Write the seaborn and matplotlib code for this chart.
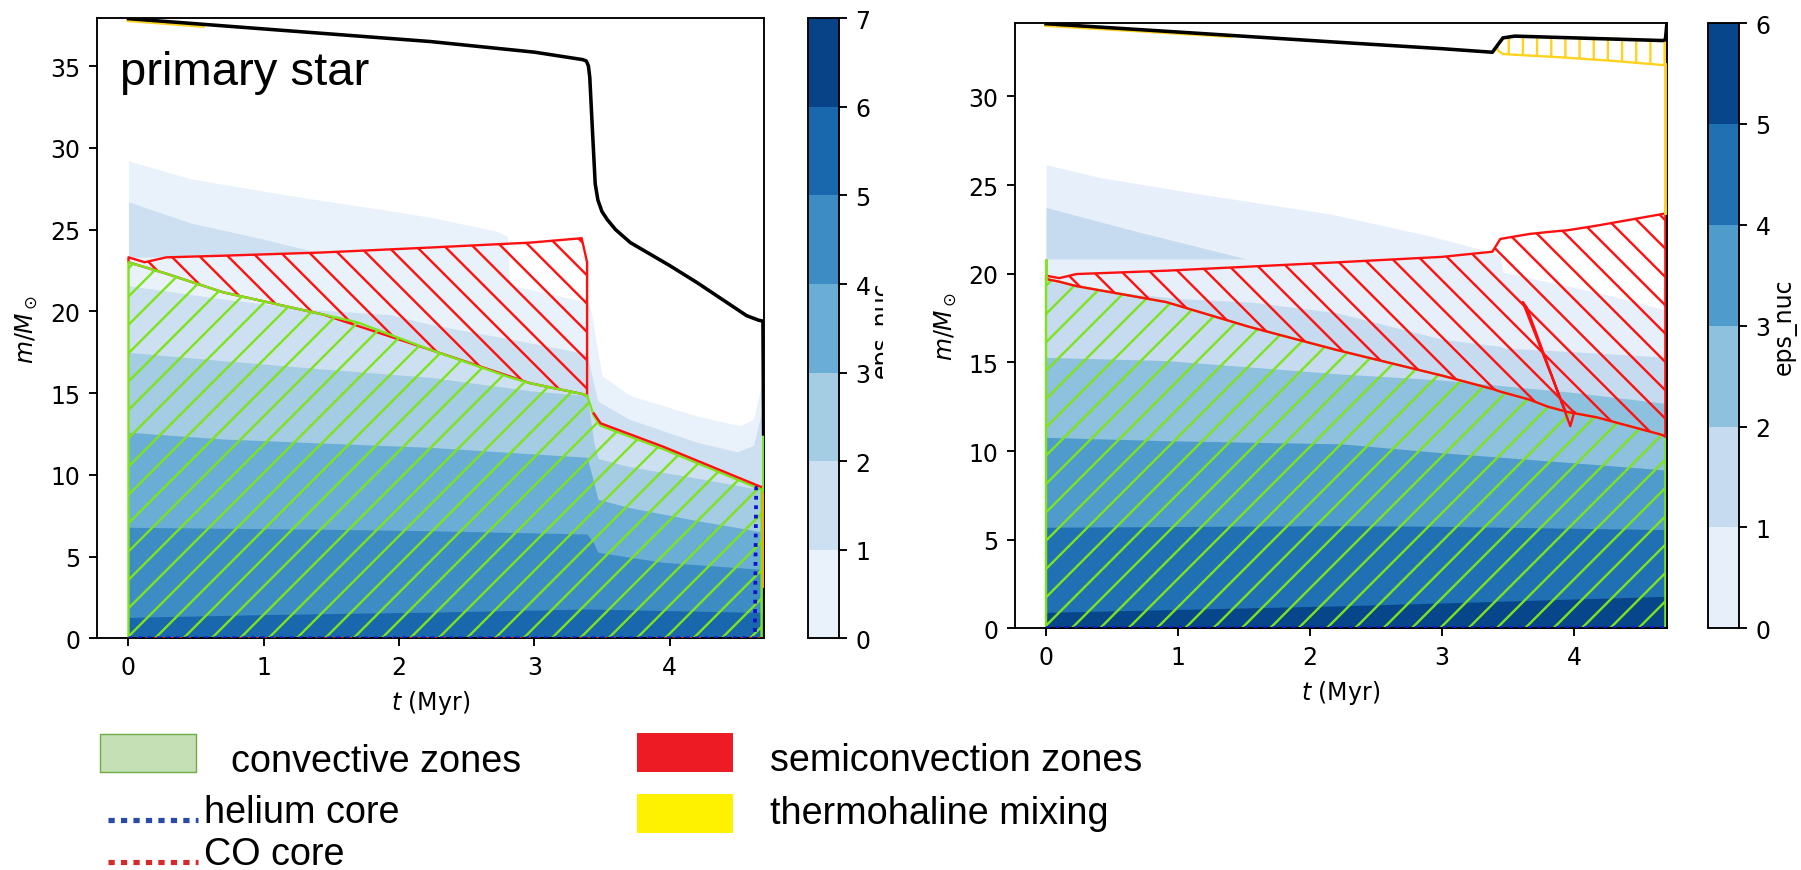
import matplotlib
matplotlib.use("Agg")
import matplotlib.pyplot as plt
import matplotlib.colors as mcolors
from matplotlib.patches import Rectangle
import seaborn as sns

# ==============================================================================
# DATA - time in Myr, mass coordinate in Msun
# ==============================================================================
# ---- primary star (left panel) ----
p_surf_t = [0, 1.0, 2.23, 3.0, 3.36, 3.385, 3.40, 3.41, 3.43, 3.45, 3.47, 3.50, 3.54, 3.60, 3.71,
            4.0, 4.2, 4.57, 4.66, 4.69, 4.695]
p_surf_m = [37.9, 37.27, 36.5, 35.85, 35.39, 35.3, 35.0, 34.3, 31.0, 27.8, 26.8, 26.1, 25.6, 25.0, 24.2,
            22.8, 21.77, 19.73, 19.45, 19.4, 12.5]

# top of the region where eps_nuc >= level (levels 0..5)
p_b0_t = [0, 0.46, 1.2, 1.93, 2.23, 2.72, 2.8, 2.82, 3.1, 3.39, 3.42, 3.47, 3.5, 3.71, 4.2, 4.52, 4.62, 4.66, 4.69]
p_b0_m = [29.2, 28.1, 27.07, 26.15, 25.75, 24.9, 24.6, 21.6, 21.1, 20.55, 20.0, 17.5, 16.06, 14.84, 13.6, 13.0, 13.4, 14.84, 16.0]
p_b1_t = [0, 0.46, 0.95, 1.35, 1.36, 1.93, 2.23, 2.82, 3.39, 3.44, 3.47, 3.7, 4.2, 4.5, 4.62, 4.67, 4.69]
p_b1_m = [26.7, 25.4, 24.5, 23.7, 20.1, 19.8, 19.2, 18.3, 17.4, 15.5, 14.5, 13.4, 12.0, 11.4, 11.8, 13.5, 14.0]
p_b2_t = [0, 0.7, 1.44, 2.23, 2.97, 3.39, 3.44, 3.47, 3.7, 4.2, 4.6, 4.69]
p_b2_m = [17.49, 16.98, 16.47, 15.96, 15.14, 14.84, 12.0, 11.0, 10.5, 9.8, 9.2, 9.1]
p_b3_t = [0, 0.7, 1.44, 2.23, 3.39, 3.44, 3.47, 3.7, 4.2, 4.69]
p_b3_m = [12.6, 12.19, 11.94, 11.68, 11.07, 9.5, 8.5, 8.0, 7.2, 6.5]
p_b4_t = [0, 1.44, 2.23, 3.39, 3.44, 3.47, 3.95, 4.64, 4.69]
p_b4_m = [6.79, 6.67, 6.58, 6.38, 5.8, 5.26, 4.65, 4.24, 4.2]
p_b5_t = [0, 1.0, 2.23, 3.39, 4.64, 4.69]
p_b5_m = [1.28, 1.45, 1.6, 1.79, 1.59, 1.59]
# low-eps pocket just under the semiconvective layer
p_pocket_t = [0, 0.7, 1.36]
p_pocket_lo = [21.57, 20.75, 20.1]
p_pocket_hi = [23.3, 23.4, 23.7]

p_conv_t = [0, 0.12, 0.28, 0.7, 1.44, 1.69, 2.23, 2.82, 2.97, 3.35, 3.39, 3.44, 3.49, 3.95, 4.64, 4.68]
p_conv_m = [23.0, 22.7, 22.3, 21.16, 19.8, 19.33, 17.65, 15.96, 15.6, 14.95, 14.84, 13.6, 13.0, 11.58, 9.23, 9.1]
p_semi_t = [0, 0.12, 0.28, 0.7, 1.44, 2.23, 2.97, 3.35, 3.39]
p_semi_lo = [23.0, 22.7, 22.3, 21.16, 19.8, 17.65, 15.6, 14.95, 14.84]
p_semi_hi = [23.3, 23.0, 23.3, 23.4, 23.6, 23.9, 24.2, 24.47, 23.0]
p_semiline_t = [3.44, 3.49, 3.95, 4.64, 4.68]
p_semiline_m = [13.75, 13.15, 11.73, 9.38, 9.25]
p_he_t = [0, 4.63, 4.64, 4.69]
p_he_m = [0, 0, 9.2, 9.2]
p_co_t = [0, 4.69]
p_co_m = [0, 0]

# ---- secondary star (right panel) ----
s_surf_t = [0, 1.0, 2.2, 3.0, 3.38, 3.42, 3.46, 3.55, 4.0, 4.67, 4.69, 4.70]
s_surf_m = [34.1, 33.63, 33.06, 32.69, 32.49, 32.9, 33.3, 33.4, 33.3, 33.15, 33.2, 34.0]

s_b0_t = [0, 0.40, 1.16, 2.15, 2.9, 3.38, 3.44, 3.46, 3.7, 4.2, 4.67, 4.69]
s_b0_m = [26.15, 25.44, 24.5, 23.37, 22.14, 21.2, 21.0, 20.1, 19.7, 18.9, 18.0, 18.0]
s_b1_t = [0, 0.66, 1.52, 1.55, 2.2, 3.0, 3.44, 3.47, 4.0, 4.67, 4.69]
s_b1_m = [23.74, 22.43, 20.83, 18.4, 17.8, 16.3, 15.9, 15.8, 15.6, 15.3, 15.3]
s_b2_t = [0, 0.91, 2.24, 3.0, 4.0, 4.67, 4.69]
s_b2_m = [15.28, 15.1, 14.34, 14.0, 13.3, 12.7, 12.7]
s_b3_t = [0, 0.91, 2.24, 3.0, 4.0, 4.67, 4.69]
s_b3_m = [10.77, 10.58, 10.4, 9.9, 9.33, 8.94, 8.94]
s_b4_t = [0, 2.24, 3.0, 4.67, 4.69]
s_b4_m = [5.7, 5.79, 5.75, 5.57, 5.57]
s_b5_t = [0, 2.24, 3.0, 4.67, 4.69]
s_b5_m = [0.9, 1.27, 1.43, 1.8, 1.8]
s_pocket_t = [0, 0.5, 1.0, 1.55]
s_pocket_lo = [19.6, 19.0, 18.6, 18.4]
s_pocket_hi = [20.83, 20.83, 20.83, 20.83]

s_semi_t = [0, 0.1, 0.23, 0.91, 1.54, 2.2, 3.0, 3.38, 3.44, 3.66, 3.8, 3.95, 4.17, 4.67, 4.69]
s_semi_hi = [19.89, 19.75, 19.98, 20.17, 20.4, 20.64, 20.95, 21.24, 21.96, 22.24, 22.35, 22.45, 22.71, 23.37, 23.4]
s_semi_lo = [19.7, 19.55, 19.3, 18.4, 17.0, 15.7, 14.25, 13.5, 13.35, 12.9, 12.5, 12.2, 11.9, 10.9, 10.8]
s_spike_t = [3.93, 3.61, 3.64, 3.97, 4.0]
s_spike_m = [12.3, 18.4, 18.1, 11.4, 12.2]
s_thm_t = [3.42, 3.46, 3.55, 3.91, 4.3, 4.67, 4.69]
s_thm_hi = [32.9, 33.3, 33.4, 33.32, 33.25, 33.15, 33.15]
s_thm_lo = [32.6, 32.39, 32.35, 32.2, 32.0, 31.77, 31.77]

# ==============================================================================
# STYLE
# ==============================================================================
DPI = 170
W, H = 1801, 871
VERDE = '#7fe31c'
VERMELHO = '#ff1010'
AMARELO = '#ffd21f'
blues = sns.color_palette("Blues", as_cmap=True)


def caixa(x0, x1, y0, y1):
    # pixel box -> figure fraction
    return [x0 / W, 1 - y1 / H, (x1 - x0) / W, (y1 - y0) / H]


fig = plt.figure(figsize=(W / DPI, H / DPI), dpi=DPI)
ax_p = fig.add_axes(caixa(96.7, 764.3, 19.3, 639.3))
cax_p = fig.add_axes(caixa(808, 839, 19.3, 639.3))
ax_s = fig.add_axes(caixa(1015, 1666.7, 24, 629.3))
cax_s = fig.add_axes(caixa(1708, 1739, 24, 629.3))
ax_s.set_zorder(1)
cax_s.set_zorder(1)

# ==============================================================================
# LEFT PANEL
# ==============================================================================
cores_p = [blues((k + 0.5) / 7) for k in range(7)]
bandas_p = [(p_b0_t, p_b0_m), (p_b1_t, p_b1_m), (p_b2_t, p_b2_m),
            (p_b3_t, p_b3_m), (p_b4_t, p_b4_m), (p_b5_t, p_b5_m)]
for k, (tt, mm) in enumerate(bandas_p):
    ax_p.fill_between(tt, 0, mm, color=cores_p[k], lw=0, zorder=1 + k * 0.01)
    if k == 1:
        ax_p.fill_between(p_pocket_t, p_pocket_lo, p_pocket_hi, color=cores_p[0], lw=0, zorder=1.015)

ax_p.fill_between(p_semi_t, p_semi_lo, p_semi_hi, facecolor='none', edgecolor=VERMELHO,
                  hatch='\\\\', lw=1.0, zorder=2)
ax_p.fill_between(p_conv_t, 0, p_conv_m, facecolor='none', edgecolor=VERDE,
                  hatch='//', lw=1.0, zorder=2.5)
ax_p.plot(p_semiline_t, p_semiline_m, color=VERMELHO, lw=1.0, zorder=3)
ax_p.plot([4.69, 4.69], [9.1, 12.4], color=VERDE, lw=1.2, zorder=3)
ax_p.plot([4.69, 4.69], [3.2, 8.9], color='#f2a900', lw=1.2, zorder=3)
ax_p.plot(p_he_t, p_he_m, color='#1010d0', lw=1.6, ls=(0, (1, 1.5)), zorder=3.2)
ax_p.plot(p_co_t, p_co_m, color='#d02020', lw=1.2, ls=(0, (1, 2)), zorder=3.1)
ax_p.plot([0, 0.55], [37.8, 37.45], color=AMARELO, lw=1.6, zorder=3.5)
sns.lineplot(x=p_surf_t, y=p_surf_m, ax=ax_p, color='black', lw=1.5,
             sort=False, estimator=None, zorder=4)

ax_p.set_xlim(-0.235, 4.70)
ax_p.set_ylim(0, 37.92)
ax_p.set_xlabel('$t$ (Myr)')
ax_p.set_ylabel(r'$m/M_\odot$')

sm_p = plt.cm.ScalarMappable(norm=mcolors.BoundaryNorm(list(range(8)), 7),
                             cmap=mcolors.ListedColormap(cores_p))
cb_p = fig.colorbar(sm_p, cax=cax_p, ticks=list(range(8)))
cb_p.set_label('eps_nuc', labelpad=0)

# ==============================================================================
# RIGHT PANEL
# ==============================================================================
cores_s = [blues((k + 0.5) / 6) for k in range(6)]
bandas_s = [(s_b0_t, s_b0_m), (s_b1_t, s_b1_m), (s_b2_t, s_b2_m),
            (s_b3_t, s_b3_m), (s_b4_t, s_b4_m), (s_b5_t, s_b5_m)]
for k, (tt, mm) in enumerate(bandas_s):
    ax_s.fill_between(tt, 0, mm, color=cores_s[k], lw=0, zorder=1 + k * 0.01)
    if k == 1:
        ax_s.fill_between(s_pocket_t, s_pocket_lo, s_pocket_hi, color=cores_s[0], lw=0, zorder=1.015)

ax_s.fill_between(s_semi_t, 0, s_semi_lo, facecolor='none', edgecolor=VERDE,
                  hatch='//', lw=1.0, zorder=2)
ax_s.fill_between(s_semi_t, s_semi_lo, s_semi_hi, facecolor='none', edgecolor=VERMELHO,
                  hatch='\\\\', lw=1.0, zorder=2.5)
ax_s.fill_between(s_thm_t, s_thm_lo, s_thm_hi, facecolor='none', edgecolor=AMARELO,
                  hatch='||', lw=1.0, zorder=2.5)
ax_s.plot(s_spike_t, s_spike_m, color=VERMELHO, lw=1.0, zorder=3)
ax_s.plot([0, 0], [19.7, 20.8], color=VERDE, lw=1.2, zorder=3)
ax_s.plot([4.69, 4.69], [23.4, 23.8], color=VERDE, lw=1.2, zorder=3)
ax_s.plot([4.69, 4.69], [23.4, 31.8], color=AMARELO, lw=1.2, zorder=3)
ax_s.plot([0, 4.69], [0, 0], color='#1010d0', lw=1.6, ls=(0, (1, 1.5)), zorder=3.2)
ax_s.plot([0, 1.4], [34.02, 33.4], color=AMARELO, lw=1.6, zorder=3.5)
sns.lineplot(x=s_surf_t, y=s_surf_m, ax=ax_s, color='black', lw=1.5,
             sort=False, estimator=None, zorder=4)

ax_s.set_xlim(-0.235, 4.70)
ax_s.set_ylim(0, 34.14)
ax_s.set_xlabel('$t$ (Myr)')
ax_s.set_ylabel(r'$m/M_\odot$')

sm_s = plt.cm.ScalarMappable(norm=mcolors.BoundaryNorm(list(range(7)), 6),
                             cmap=mcolors.ListedColormap(cores_s))
cb_s = fig.colorbar(sm_s, cax=cax_s, ticks=list(range(7)))
cb_s.set_label('eps_nuc', labelpad=1)

# white sheet of the second figure, hiding part of the first colorbar label
fig.add_artist(Rectangle((883 / W, 0.2), 1, 0.8, transform=fig.transFigure,
                         facecolor='white', edgecolor='none', zorder=0.5))

# ==============================================================================
# TEXT AND LEGEND
# ==============================================================================
FONTE = 'Liberation Sans'
fig.text(120 / W, 1 - 85 / H, 'primary star', fontsize=20, family=FONTE, va='baseline')

ax_leg = fig.add_axes(caixa(0, W, 697, H))
ax_leg.set_zorder(3)
ax_leg.set_xlim(0, W)
ax_leg.set_ylim(H, 697)
ax_leg.axis('off')
ax_leg.add_patch(Rectangle((100, 735), 96, 38, facecolor='#c5e0b4', edgecolor='#70ad47', lw=0.6))
ax_leg.add_patch(Rectangle((637, 734), 96, 39, facecolor='#ed1c24', edgecolor='none'))
ax_leg.add_patch(Rectangle((637, 795), 96, 39, facecolor='#fff200', edgecolor='none'))
ax_leg.plot([108, 198], [820.7, 820.7], color='#2a4aa8', lw=2.2, ls=(0, (1.2, 1.2)))
ax_leg.plot([108, 198], [863, 863], color='#d42a2a', lw=2.2, ls=(0, (1.2, 1.2)))
ax_leg.text(231, 771.7, 'convective zones', fontsize=16, family=FONTE, va='baseline')
ax_leg.text(204, 823, 'helium core', fontsize=16, family=FONTE, va='baseline')
ax_leg.text(204, 865, 'CO core', fontsize=16, family=FONTE, va='baseline')
ax_leg.text(770, 771, 'semiconvection zones', fontsize=16, family=FONTE, va='baseline')
ax_leg.text(770, 824, 'thermohaline mixing', fontsize=16, family=FONTE, va='baseline')

fig.savefig('out.png', dpi=DPI)
